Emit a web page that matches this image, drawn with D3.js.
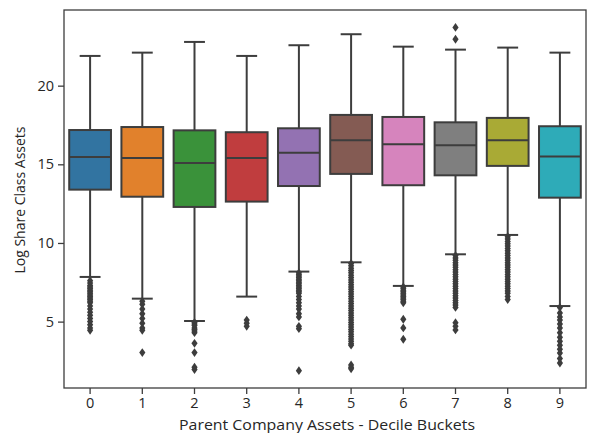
<!DOCTYPE html>
<html><head><meta charset="utf-8">
<script src="https://cdn.jsdelivr.net/npm/d3@7"></script>
<style>body{margin:0;background:#fff}svg{display:block}text{font-family:"Open Sans",sans-serif;fill:#262626}</style>
</head><body><svg id="c" width="589" height="433"></svg>
<script>
const categories = ["0","1","2","3","4","5","6","7","8","9"];
const whiskerHigh = [21.89,22.10,22.78,21.89,22.57,23.27,22.48,22.29,22.42,22.10];
const q3 = [17.18,17.37,17.16,17.04,17.29,18.14,18.01,17.67,17.95,17.42];
const median = [15.47,15.40,15.09,15.40,15.74,16.53,16.27,16.21,16.53,15.49];
const q1 = [13.39,12.94,12.29,12.63,13.62,14.39,13.67,14.30,14.90,12.88];
const whiskerLow = [7.84,6.46,5.04,6.59,8.18,8.77,7.27,9.28,10.51,5.99];
const outliers = [
  [7.6,7.45,7.3,7.2,7.1,7.0,6.9,6.8,6.7,6.6,6.5,6.4,6.3,6.2,6.0,5.8,5.6,5.4,5.2,5.0,4.8,4.6,4.45],
  [6.3,6.1,5.8,5.5,5.2,4.9,4.6,4.45,3.03],
  [4.95,4.85,4.75,4.6,4.5,4.4,4.3,3.62,3.03,2.1,1.95],
  [5.1,4.9,4.7],
  [8.1,8.0,7.9,7.8,7.7,7.6,7.5,7.4,7.3,7.2,7.1,7.0,6.9,6.8,6.6,6.4,6.2,6.0,5.8,5.5,5.3,4.7,4.55,1.88],
  [8.7,8.55,8.4,8.25,8.1,7.95,7.8,7.65,7.5,7.35,7.2,7.05,6.9,6.75,6.6,6.45,6.3,6.15,6.0,5.85,5.7,5.55,5.4,5.25,5.1,4.95,4.8,4.65,4.5,4.35,4.2,4.05,3.9,3.75,3.6,3.5,2.25,2.1,2.0],
  [7.2,7.1,7.0,6.9,6.8,6.7,6.6,6.5,6.4,6.3,6.2,5.15,4.6,3.88],
  [23.7,22.95,9.2,9.05,8.9,8.75,8.6,8.45,8.3,8.15,8.0,7.85,7.7,7.55,7.4,7.25,7.1,6.95,6.8,6.65,6.5,6.35,6.2,6.05,5.9,4.93,4.7,4.47],
  [10.4,10.25,10.1,9.95,9.8,9.65,9.5,9.35,9.2,9.05,8.9,8.75,8.6,8.45,8.3,8.15,8.0,7.85,7.7,7.55,7.4,7.25,7.1,6.95,6.8,6.6,6.4],
  [5.9,5.55,5.3,5.1,4.85,4.6,4.3,4.0,3.75,3.5,3.25,3.0,2.65,2.37]
];
const colors = ["#3274a1","#e1812c","#3a923a","#c03d3e","#9372b2","#845b53","#d684bd","#7f7f7f","#a9aa35","#2eabb8"];
const yTicks = [5,10,15,20];
const xLabel = "Parent Company Assets - Decile Buckets";
const yLabel = "Log Share Class Assets";

const svg = d3.select("#c");
const L = 64, R = 586, T = 10, B = 388;
const x = d3.scaleBand().domain(categories).range([L, R]).padding(0);
const y = d3.scaleLinear().domain([0.78, 24.81]).range([B, T]);
const lc = "#3d3d3d";
const bw = x.bandwidth()*0.8;

const g = svg.append("g");
categories.forEach((c,i)=>{
  const cx = x(c) + x.bandwidth()/2;
  const grp = g.append("g");
  grp.append("line").attr("x1",cx).attr("x2",cx).attr("y1",y(q3[i])).attr("y2",y(whiskerHigh[i])).attr("stroke",lc).attr("stroke-width",2);
  grp.append("line").attr("x1",cx).attr("x2",cx).attr("y1",y(q1[i])).attr("y2",y(whiskerLow[i])).attr("stroke",lc).attr("stroke-width",2);
  grp.append("line").attr("x1",cx-bw/4).attr("x2",cx+bw/4).attr("y1",y(whiskerHigh[i])).attr("y2",y(whiskerHigh[i])).attr("stroke",lc).attr("stroke-width",2);
  grp.append("line").attr("x1",cx-bw/4).attr("x2",cx+bw/4).attr("y1",y(whiskerLow[i])).attr("y2",y(whiskerLow[i])).attr("stroke",lc).attr("stroke-width",2);
  grp.append("rect").attr("x",cx-bw/2).attr("width",bw).attr("y",y(q3[i])).attr("height",y(q1[i])-y(q3[i]))
    .attr("fill",colors[i]).attr("stroke",lc).attr("stroke-width",2);
  grp.append("line").attr("x1",cx-bw/2).attr("x2",cx+bw/2).attr("y1",y(median[i])).attr("y2",y(median[i])).attr("stroke",lc).attr("stroke-width",2);
  grp.selectAll("path.o").data(outliers[i]).enter().append("path").attr("class","o")
    .attr("d","M0,-4.4L3.1,0L0,4.4L-3.1,0Z")
    .attr("transform",v=>`translate(${cx},${y(v)})`).attr("fill",lc);
});

svg.append("rect").attr("x",L).attr("y",T).attr("width",R-L).attr("height",B-T).attr("fill","none").attr("stroke",lc).attr("stroke-width",1.3);

const xa = svg.append("g").attr("transform",`translate(0,${B})`).call(d3.axisBottom(x).tickSize(6).tickPadding(4));
const ya = svg.append("g").attr("transform",`translate(${L},0)`).call(d3.axisLeft(y).tickValues(yTicks).tickSize(6).tickPadding(4));
[xa,ya].forEach(a=>{a.select(".domain").remove();a.selectAll("line").attr("stroke",lc).attr("stroke-width",1.3);
  a.selectAll("text").style("font-size","14.5px").style("font-family","Open Sans").attr("fill","#262626");});

svg.append("text").attr("x",179).attr("y",430).attr("textLength",296).attr("lengthAdjust","spacingAndGlyphs")
  .style("font-size","15px").text(xLabel);
svg.append("text").attr("transform",`translate(25,${200}) rotate(-90)`).attr("text-anchor","middle").style("font-size","14px").text(yLabel);
</script></body></html>
